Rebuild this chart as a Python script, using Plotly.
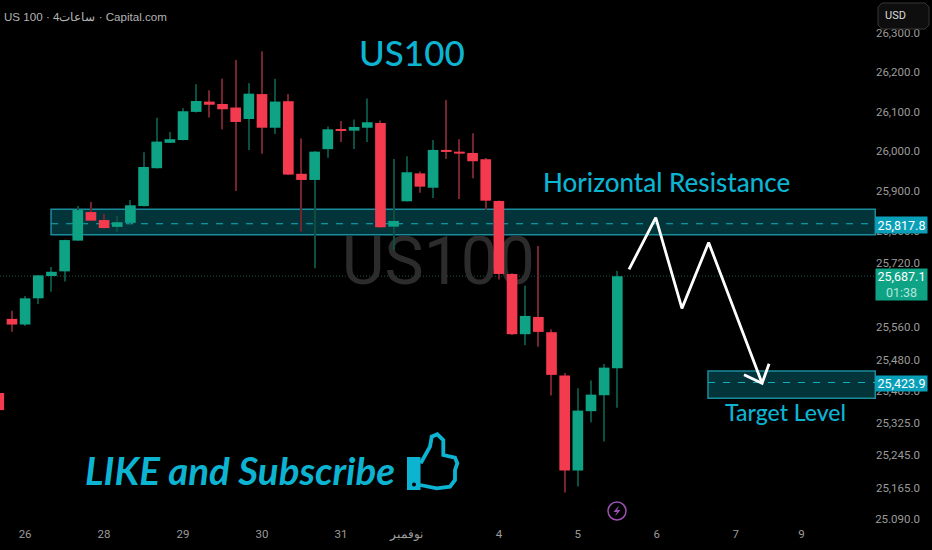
import numpy as np
import plotly.graph_objects as go

W, H = 932, 550

opens = [25398,25581,25567,25632,25687.5,25699,25775.6,25847,25827,25810,25820,25862,25957,26021,26028,26099,
         26125,26119,26110,26081,26144,26059,26126,25943,25927.5,26005,26053.4,26051.6,26059,26071,25810.5,25874,
         25944,25908,26003,25998.7,25995.4,25979.6,25874.8,25692.5,25543,25585.8,25548,25441,25208,25353.4,25392.6,25459]
closes = [25356,25567,25632,25689,25698,25777,25852,25825.5,25807,25821.5,25864,25960,26024,26030,26100.6,26126.6,
          26117,26105.6,26073.5,26145,26059,26125,25941,25927.5,25998.7,26055,26050.8,26060.9,26072.8,25809,25824.8,25946.8,
          25910.7,26003,25997.9,25993.6,25974.5,25875.5,25692.5,25543,25588.3,25548.7,25442.6,25208,25354.8,25394,25460.5,25687.1]
highs = [25398,25601,25638,25690,25710,25777.5,25862,25872,25842,25837,25877,25997,26084,26048,26109,26169,
         26154,26183,26230.5,26171.5,26253,26183,26144,26032,26000.4,26062,26076,26080,26133,26077,25980,25987,
         25949,26028,26129,26030,26045,25983,25876,25694,25663,25762,25555,25447.5,25410,25428.6,25469.6,25700.7]
lows = [25356,25549,25563.5,25618,25648,25674,25775,25825,25806,25798,25818.5,25861,25956,26020.5,26027,26097.5,
        26085,26055,25900,26003,25993.6,26043,25940,25798,25706.7,25983.6,26023,26005.5,26023,25807,25752,25873.5,
        25895.6,25882,25980,25880,25932,25852,25679,25541,25516,25512,25392,25154.5,25169,25326,25279,25362]

tick_prices = [26300,26200,26100,26000,25900,25800,25720,25560,25480,25403,25325,25245,25165,25090]
tick_labels = ["26,300.0","26,200.0","26,100.0","26,000.0","25,900.0","25,800.0","25,720.0","25,560.0",
               "25,480.0","25,403.0","25,325.0","25,245.0","25,165.0","25.090.0"]
date_slots = [2,8,14,20,26,31,38,44,50,56,61]
date_labels = ["26","28","29","30","31","نوفمبر","4","5","6","7","9"]

path_slots = [47.89,49.92,51.91,53.94,58.0]
path_prices = [25704,25833,25607,25771,25422]
head_slots = [56.63,58.0,58.53]
head_prices = [25443,25422,25470]

zone_top = [25854,25452]
zone_bottom = [25790,25385]
zone_level = [25817.8,25423.9]
zone_start = [3.97,53.89]
zone_end = 66.6
last_price = 25687.1

GREEN, RED = "#0fa386", "#f43a4e"
GREEN_W, RED_W = "#0b4f43", "#74242f"
CYAN = "#0db4d2"
TICK = "#9b9b9b"
NARROW = "Roboto, sans-serif"
HUM = "Lato, Open Sans, sans-serif"

idx = np.arange(len(opens))
o, c, hi, lo = map(np.array, (opens, closes, highs, lows))
up = c >= o
xr = [(0 + 1.2) / 13.16, (W + 1.2) / 13.16]
ytop = np.log10(26200) + 72 / 23775
yr = [ytop - H / 23775, ytop]

fx = lambda x: x / W
fy = lambda y: 1 - y / H

fig = go.Figure()
# watermark sits on the lower subplot, candles on the overlay above it
fig.add_trace(go.Scatter(x=[33.4], y=[25708], mode="text", text=["US100"],
                         textfont=dict(family=NARROW, size=66, color="#2c2c2c"),
                         hoverinfo="skip", showlegend=False))
fig.add_trace(go.Bar(x=idx, base=lo, y=hi - lo, width=0.085, xaxis="x2", yaxis="y2",
                     marker=dict(color=[GREEN_W if u else RED_W for u in up], line_width=0),
                     hoverinfo="skip", showlegend=False))
fig.add_trace(go.Bar(x=idx, base=np.minimum(o, c), y=np.abs(c - o), width=0.81, xaxis="x2", yaxis="y2",
                     marker=dict(color=[GREEN if u else RED for u in up], line_width=0),
                     hoverinfo="skip", showlegend=False))
fig.add_trace(go.Scatter(x=path_slots, y=path_prices, mode="lines", xaxis="x2", yaxis="y2",
                         line=dict(color="white", width=2.8), hoverinfo="skip", showlegend=False))
fig.add_trace(go.Scatter(x=head_slots, y=head_prices, mode="lines", xaxis="x2", yaxis="y2",
                         line=dict(color="white", width=2.8), hoverinfo="skip", showlegend=False))

shapes = []
for i in range(2):
    shapes.append(dict(type="rect", layer="below", xref="x", yref="y", x0=zone_start[i], x1=zone_end,
                       y0=zone_bottom[i], y1=zone_top[i], fillcolor="#02343a",
                       line=dict(color="#1b8c9b", width=1.5)))
    shapes.append(dict(type="line", layer="below", xref="x", yref="y", x0=zone_start[i], x1=zone_end,
                       y0=zone_level[i], y1=zone_level[i],
                       line=dict(color="#14aebf", width=1.2, dash="7px,8px")))
shapes.append(dict(type="line", layer="below", xref="x", yref="y", x0=xr[0], x1=zone_end,
                   y0=last_price, y1=last_price, line=dict(color="#15584a", width=1, dash="1px,2px")))


def pth(points, close=True):
    s = "M" + " L".join(f"{fx(a):.5f},{fy(b):.5f}" for a, b in points)
    return s + (" Z" if close else "")


# thumb outline and cuff
thumb = [(420.7,463.3),(430,446.7),(431.7,436.7),(437.3,434.3),(443.3,440),(443.3,455),(455,457.7),
         (457.3,463.3),(455,470),(455,480),(450,486.7),(436.7,488.3),(420,485)]
shapes.append(dict(type="path", layer="above", xref="paper", yref="paper", path=pth(thumb, False),
                   line=dict(color=CYAN, width=3.8)))
shapes.append(dict(type="path", layer="above", xref="paper", yref="paper",
                   path=pth([(407,457),(420.5,457),(420.5,490),(407,490)]), fillcolor=CYAN, line_width=0))
shapes.append(dict(type="circle", layer="above", xref="paper", yref="paper", x0=fx(412), x1=fx(416),
                   y0=fy(486.5), y1=fy(482.5), fillcolor="black", line_width=0))
# flash icon
shapes.append(dict(type="circle", layer="above", xref="paper", yref="paper", x0=fx(608), x1=fx(626),
                   y0=fy(520), y1=fy(502), line=dict(color="#9b4fb3", width=1.5)))
shapes.append(dict(type="path", layer="above", xref="paper", yref="paper",
                   path=pth([(619,505.5),(613.5,512),(617,512),(615,516.5),(620.5,510),(617.2,510)]),
                   fillcolor="#9b4fb3", line_width=0))
# USD box
r = 4
box = [(878+r,3),(929-r,3),(929,3+r),(929,29-r),(929-r,29),(878+r,29),(878,29-r),(878,3+r)]
shapes.append(dict(type="path", layer="above", xref="paper", yref="paper", path=pth(box),
                   fillcolor="#0e0e0e", line=dict(color="#363636", width=1)))


def note(text, x, y, size, color=CYAN, family=HUM, weight=400):
    return dict(text=text, x=fx(x), y=fy(y), xref="paper", yref="paper", showarrow=False,
                xanchor="center", yanchor="middle",
                font=dict(family=family, size=size, color=color, weight=weight))


def badge(text, y0, y1, color):
    return dict(text=text, x=fx(901.5), y=fy((y0 + y1) / 2), xref="paper", yref="paper", showarrow=False,
                xanchor="center", yanchor="middle",
                width=51, height=y1 - y0, bgcolor=color, borderpad=0, align="center", valign="middle",
                font=dict(family=NARROW, size=12.5, color="white"))


annotations = [
    note("US 100 · 4ساعات · Capital.com", 85.5, 17, 11.6, "#b4b4b4", "Liberation Sans, Arial, sans-serif"),
    note("US100", 412, 52, 35, weight=500),
    note("Horizontal Resistance", 666.5, 182, 26, weight=500),
    note("Target Level", 785, 412, 23, weight=500),
    note("<b><i>LIKE and Subscribe</i></b>", 240, 470, 38.5),
    note("USD", 895, 16, 11, "#dcdcdc", NARROW),
    badge("25,817.8", 217, 233, "#0a9fb8"),
    badge("25,423.9", 376, 391, "#0a9fb8"),
    badge("25,687.1<br><span style='color:#b5e6da'>01:38</span>", 269, 300, "#0fa386"),
]

fig.update_layout(
    width=W, height=H, margin=dict(l=0, r=0, t=0, b=0),
    paper_bgcolor="black", plot_bgcolor="black", barmode="overlay", showlegend=False,
    shapes=shapes, annotations=annotations,
    xaxis=dict(range=xr, tickmode="array", tickvals=date_slots, ticktext=date_labels,
               ticklabelposition="inside", ticks="", showgrid=False, zeroline=False, showline=False,
               ticklabelstandoff=7, tickfont=dict(family=NARROW, size=11.5, color=TICK)),
    yaxis=dict(type="log", range=yr, side="right", tickmode="array", tickvals=tick_prices, ticktext=tick_labels,
               ticklabelposition="inside", ticks="", showgrid=False, zeroline=False, showline=False,
               ticklabelstandoff=9, tickfont=dict(family=NARROW, size=11.5, color=TICK)),
    xaxis2=dict(range=xr, overlaying="x", visible=False),
    yaxis2=dict(type="log", range=yr, overlaying="y", side="right", visible=False),
)
fig.write_html("out.html", config=dict(displayModeBar=False),
               post_script="document.body.style.margin='0';document.body.style.background='black';")
